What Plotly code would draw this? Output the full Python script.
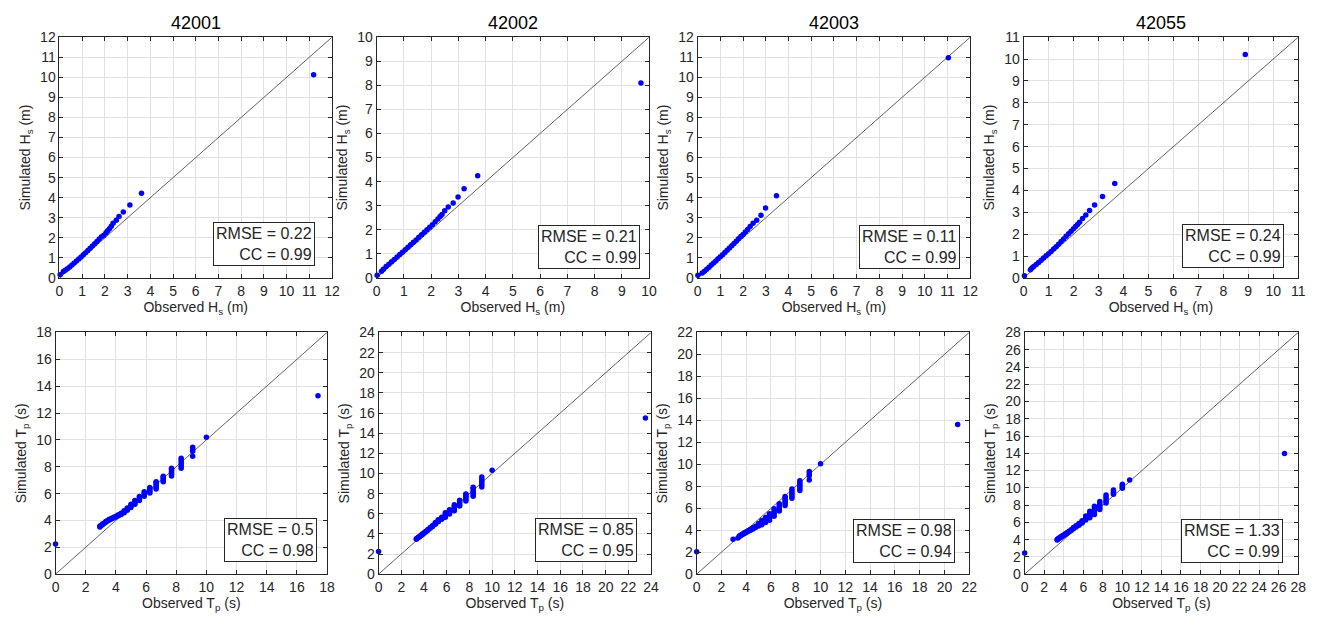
import plotly.graph_objects as go

# ---------------- data ----------------
stations = ["42001", "42002", "42003", "42055"]
hs_axis_max = [12, 10, 12, 11]
tp_axis_max = [18, 24, 22, 28]
hs_rmse = ["0.22", "0.21", "0.11", "0.24"]
hs_cc = ["0.99", "0.99", "0.99", "0.99"]
tp_rmse = ["0.5", "0.85", "0.98", "1.33"]
tp_cc = ["0.98", "0.95", "0.94", "0.99"]

# Significant wave height (Hs) quantiles, observed vs simulated
hs_obs_42001 = [0.03, 0.17, 0.25, 0.35, 0.45, 0.55, 0.65, 0.75, 0.85, 0.95, 1.05, 1.15, 1.25, 1.35, 1.45,
                1.55, 1.65, 1.75, 1.85, 1.95, 2.05, 2.12, 2.20, 2.28, 2.36, 2.50, 2.62, 2.81, 3.10, 3.61, 11.19]
hs_sim_42001 = [0.16, 0.32, 0.38, 0.46, 0.55, 0.64, 0.74, 0.84, 0.94, 1.04, 1.15, 1.26, 1.37, 1.48, 1.59,
                1.70, 1.82, 1.94, 2.05, 2.13, 2.25, 2.35, 2.45, 2.58, 2.72, 2.87, 3.06, 3.29, 3.63, 4.22, 10.13]

hs_obs_42002 = [0.02, 0.18, 0.25, 0.35, 0.45, 0.55, 0.65, 0.75, 0.85, 0.95, 1.05, 1.15, 1.25, 1.35, 1.45, 1.55,
                1.65, 1.75, 1.85, 1.95, 2.05, 2.15, 2.25, 2.33, 2.40, 2.50, 2.63, 2.81, 2.99, 3.21, 3.71, 9.70]
hs_sim_42002 = [0.11, 0.28, 0.36, 0.47, 0.57, 0.67, 0.77, 0.87, 0.97, 1.07, 1.17, 1.27, 1.38, 1.48, 1.58, 1.69,
                1.79, 1.90, 2.00, 2.10, 2.21, 2.33, 2.45, 2.55, 2.64, 2.79, 2.95, 3.11, 3.36, 3.70, 4.24, 8.10]

hs_obs_42003 = [0.01, 0.20, 0.30, 0.40, 0.50, 0.60, 0.70, 0.80, 0.90, 1.00, 1.10, 1.20, 1.30, 1.40, 1.50,
                1.60, 1.70, 1.80, 1.90, 2.00, 2.10, 2.20, 2.31, 2.44, 2.60, 2.79, 2.99, 3.47, 11.04]
hs_sim_42003 = [0.13, 0.24, 0.33, 0.43, 0.53, 0.64, 0.74, 0.84, 0.95, 1.05, 1.16, 1.27, 1.38, 1.49, 1.60,
                1.71, 1.83, 1.95, 2.06, 2.17, 2.29, 2.42, 2.56, 2.72, 2.88, 3.13, 3.48, 4.10, 10.98]

hs_obs_42055 = [0.03, 0.27, 0.33, 0.40, 0.50, 0.60, 0.70, 0.80, 0.90, 1.00, 1.10, 1.20, 1.30, 1.40, 1.50,
                1.60, 1.70, 1.80, 1.90, 2.00, 2.08, 2.16, 2.24, 2.36, 2.49, 2.64, 2.84, 3.16, 3.65, 8.88]
hs_sim_42055 = [0.10, 0.37, 0.45, 0.52, 0.61, 0.71, 0.81, 0.91, 1.01, 1.11, 1.21, 1.32, 1.43, 1.54, 1.66,
                1.78, 1.90, 2.02, 2.13, 2.25, 2.35, 2.44, 2.54, 2.71, 2.87, 3.08, 3.33, 3.72, 4.31, 10.21]

# Peak period (Tp): observed (discrete) values and the simulated quantiles at each
tp_obs_42001 = [0.0, 2.94, 3.03, 3.13, 3.23, 3.33, 3.45, 3.57, 3.70, 3.85, 4.00, 4.17, 4.35, 4.55, 4.76,
                5.00, 5.26, 5.56, 5.88, 6.25, 6.67, 7.14, 7.69, 8.33, 9.09, 10.0, 17.4]
tp_sim_42001 = [[2.25], [3.52, 3.58], [3.62], [3.70, 3.76], [3.80], [3.86, 3.92], [3.95, 4.00], [4.03, 4.08],
                [4.10, 4.15], [4.18, 4.24], [4.26, 4.32], [4.35, 4.42], [4.45, 4.53], [4.58, 4.67, 4.72],
                [4.76, 4.85, 4.92], [4.96, 5.05, 5.12, 5.20], [5.20, 5.30, 5.40, 5.49], [5.49, 5.58, 5.68, 5.78],
                [5.80, 5.92, 6.04, 6.14], [6.04, 6.15, 6.27, 6.38, 6.45], [6.35, 6.46, 6.58, 6.70, 6.82, 6.88],
                [6.88, 6.98, 7.10, 7.20, 7.30], [7.31, 7.44, 7.57, 7.70, 7.82, 7.89],
                [7.89, 8.05, 8.20, 8.35, 8.50, 8.63], [8.78, 9.15, 9.30, 9.45], [10.19], [13.28]]

tp_obs_42002 = [0.0, 3.33, 3.45, 3.57, 3.70, 3.85, 4.00, 4.17, 4.35, 4.55, 4.76, 5.00, 5.26, 5.56, 5.88,
                6.25, 6.67, 7.14, 7.69, 8.33, 9.09, 10.0, 23.5]
tp_sim_42002 = [[2.26], [3.46, 3.52], [3.58, 3.62], [3.68, 3.72], [3.78, 3.84], [3.92, 3.98], [4.05, 4.10],
                [4.20, 4.26], [4.36, 4.44], [4.55, 4.63], [4.74, 4.84], [4.95, 5.05, 5.12], [5.20, 5.30, 5.40],
                [5.45, 5.55, 5.65], [5.65, 5.80, 5.95, 6.10], [5.97, 6.10, 6.25, 6.40],
                [6.29, 6.45, 6.60, 6.75, 6.90], [6.77, 6.92, 7.07, 7.22, 7.35],
                [7.26, 7.42, 7.58, 7.74, 7.90, 7.97], [7.74, 7.90, 8.08, 8.25, 8.45, 8.62],
                [8.65, 8.85, 9.05, 9.25, 9.45, 9.65], [10.32], [15.5]]

tp_obs_42003 = [0.0, 2.94, 3.33, 3.45, 3.57, 3.70, 3.85, 4.00, 4.17, 4.35, 4.55, 4.76, 5.00, 5.26, 5.56,
                5.88, 6.25, 6.67, 7.14, 7.69, 8.33, 9.09, 10.0, 21.07]
tp_sim_42003 = [[2.03], [3.18], [3.30], [3.42, 3.48], [3.52, 3.56], [3.60, 3.65], [3.70, 3.76], [3.80, 3.86],
                [3.90, 3.97], [4.00, 4.08], [4.12, 4.22], [4.25, 4.36], [4.38, 4.50, 4.60],
                [4.50, 4.62, 4.75, 4.88], [4.71, 4.85, 5.00, 5.15], [4.91, 5.08, 5.25, 5.40, 5.50],
                [5.26, 5.42, 5.60, 5.78, 5.95], [5.74, 5.90, 6.08, 6.25, 6.41],
                [6.26, 6.45, 6.62, 6.80, 6.95, 7.06], [6.91, 7.08, 7.25, 7.42, 7.60, 7.75],
                [7.62, 7.80, 7.98, 8.15, 8.32, 8.50], [8.56, 8.95, 9.15, 9.35], [10.06], [13.62]]

tp_obs_42055 = [0.0, 3.33, 3.45, 3.57, 3.70, 3.85, 4.00, 4.17, 4.35, 4.55, 4.76, 5.00, 5.26, 5.56, 5.88,
                6.25, 6.67, 7.14, 7.69, 8.33, 9.09, 10.0, 10.75, 26.6]
tp_sim_42055 = [[2.46], [3.97, 4.02], [4.07, 4.12], [4.17, 4.22], [4.27, 4.32], [4.38, 4.44], [4.48, 4.55],
                [4.60, 4.67], [4.74, 4.82], [4.90, 4.98], [5.06, 5.15], [5.25, 5.33, 5.40],
                [5.45, 5.55, 5.62], [5.68, 5.78, 5.88], [5.92, 6.02, 6.12, 6.20], [6.27, 6.40, 6.55, 6.73],
                [6.54, 6.72, 6.90, 7.10, 7.29], [6.92, 7.12, 7.35, 7.60, 7.86],
                [7.48, 7.70, 7.95, 8.20, 8.43], [8.24, 8.45, 8.70, 8.95, 9.18], [9.26, 9.40, 9.55, 9.75],
                [9.94, 10.10, 10.25, 10.43], [10.90], [13.98]]

# ---------------- assemble ----------------
hs_obs = [hs_obs_42001, hs_obs_42002, hs_obs_42003, hs_obs_42055]
hs_sim = [hs_sim_42001, hs_sim_42002, hs_sim_42003, hs_sim_42055]
tp_obs_groups = [tp_obs_42001, tp_obs_42002, tp_obs_42003, tp_obs_42055]
tp_sim_groups = [tp_sim_42001, tp_sim_42002, tp_sim_42003, tp_sim_42055]


def expand(obs, sims):
    xs, ys = [], []
    for o, group in zip(obs, sims):
        for s in group:
            xs.append(o)
            ys.append(s)
    return xs, ys


W, H = 1325, 626
# pixel boxes of the plot areas (left, right, top, bottom)
top_cols = [(56, 331), (376, 651), (700, 975), (1029, 1306)]
bot_cols = [(52, 326), (378, 653), (699, 974), (1030, 1306)]
top_row = (30, 277)
bot_row = (333, 581)
top_box = [(0.938, 0.049), (0.966, 0.035), (0.964, 0.036), (0.95, 0.04)]
bot_box = [(0.963, 0.051), (0.95, 0.05), (0.947, 0.047), (0.946, 0.045)]

FONT = "Liberation Sans, Arial, Helvetica, sans-serif"
DARK = "#262626"

fig = go.Figure()
layout = dict(
    width=W, height=H, margin=dict(l=0, r=0, t=0, b=0),
    paper_bgcolor="white", plot_bgcolor="white", showlegend=False,
    font=dict(family=FONT, color=DARK, size=14),
)
annotations = []


def axis_style(rng, dtick, dom, title, is_x, anchor):
    d = dict(
        range=[0, rng], dtick=dtick, tick0=0, domain=dom, anchor=anchor,
        showline=True, linecolor=DARK, linewidth=1, mirror="allticks",
        ticks="inside", ticklen=4, tickcolor=DARK, tickwidth=1,
        showgrid=True, gridcolor="#e2e2e2", gridwidth=1, zeroline=False,
        tickfont=dict(size=14, color=DARK, family=FONT), fixedrange=True,
        title=dict(text=title, font=dict(size=14, color=DARK, family=FONT), standoff=3 if is_x else 6),
    )
    return d


panels = []
for i in range(4):
    panels.append(dict(row="top", col=i))
for i in range(4):
    panels.append(dict(row="bot", col=i))

for k, p in enumerate(panels):
    n = k + 1
    i = p["col"]
    if p["row"] == "top":
        l, r = top_cols[i]
        t, b = top_row
        xs, ys = hs_obs[i], hs_sim[i]
        amax = hs_axis_max[i]
        dtick = 1
        xt = "Observed H<sub>s</sub> (m)"
        yt = "Simulated H<sub>s</sub> (m)"
        txt = f"RMSE = {hs_rmse[i]}<br>CC = {hs_cc[i]}"
        bx, by = top_box[i]
    else:
        l, r = bot_cols[i]
        t, b = bot_row
        xs, ys = expand(tp_obs_groups[i], tp_sim_groups[i])
        amax = tp_axis_max[i]
        dtick = 2
        xt = "Observed T<sub>p</sub> (s)"
        yt = "Simulated T<sub>p</sub> (s)"
        txt = f"RMSE = {tp_rmse[i]}<br>CC = {tp_cc[i]}"
        bx, by = bot_box[i]

    xdom = [l / W, r / W]
    ydom = [1 - b / H, 1 - t / H]
    xa = "x" if n == 1 else f"x{n}"
    ya = "y" if n == 1 else f"y{n}"
    layout["xaxis" if n == 1 else f"xaxis{n}"] = axis_style(amax, dtick, xdom, xt, True, ya)
    layout["yaxis" if n == 1 else f"yaxis{n}"] = axis_style(amax, dtick, ydom, yt, False, xa)

    # 1:1 line
    fig.add_trace(go.Scatter(x=[0, amax], y=[0, amax], mode="lines",
                             line=dict(color="#3a3a3a", width=0.8), xaxis=xa, yaxis=ya,
                             hoverinfo="skip"))
    # quantile points
    fig.add_trace(go.Scatter(x=xs, y=ys, mode="markers",
                             marker=dict(color="#0000ff", size=5.5, line=dict(width=0)),
                             xaxis=xa, yaxis=ya, cliponaxis=False))

    annotations.append(dict(
        xref=f"{xa} domain", yref=f"{ya} domain", x=bx, y=by,
        xanchor="right", yanchor="bottom", text=txt, align="right", showarrow=False,
        font=dict(size=16, color=DARK, family=FONT),
        bordercolor=DARK, borderwidth=1, borderpad=2, bgcolor="white",
    ))
    if p["row"] == "top":
        annotations.append(dict(
            xref="paper", yref="paper", x=(xdom[0] + xdom[1]) / 2, y=ydom[1] + 2 / H,
            xanchor="center", yanchor="bottom", text=stations[i], showarrow=False,
            font=dict(size=18, color="#000000", family=FONT),
        ))

layout["annotations"] = annotations
fig.update_layout(**layout)
fig.write_html("out.html")
